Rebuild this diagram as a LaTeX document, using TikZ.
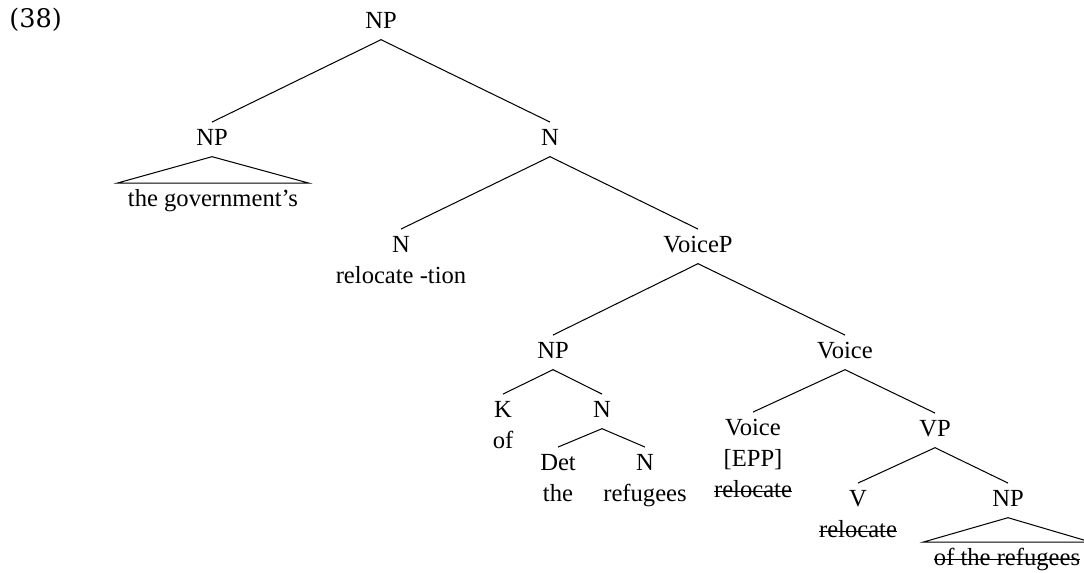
\documentclass[tikz,border=0pt]{standalone}
\usepackage{fontspec}
\setmainfont{Liberation Serif}
\newfontfamily\exnumfont{DejaVu Serif}
\newsavebox\strikebox
\newcommand\strikethru[1]{\sbox\strikebox{#1}\rlap{\rule[0.22em]{\wd\strikebox}{0.5pt}}\usebox\strikebox}
\usetikzlibrary{positioning}

\begin{document}
\begin{tikzpicture}[
    x=0.488pt, y=-0.488pt,
    font=\fontsize{12}{14}\selectfont,
    cat/.style={anchor=base, inner sep=3pt, text height=8pt, text depth=2.5pt},
    word/.style={anchor=base, inner sep=3pt},
    roof/.style={anchor=base, inner xsep=5pt, inner ysep=3pt, text height=8pt, text depth=2.5pt},
    branch/.style={line width=0.5pt}
]
    \useasboundingbox (0,0) rectangle (1084,572);
    \node[anchor=base west, inner sep=0pt, font=\exnumfont\fontsize{12.5}{14}\selectfont] (exnum) at (9,27) {(38)};

    \node[cat] (root) at (381,28) {NP};
    \node[cat] (npposs) at (212,145) {NP};
    \node[cat] (nbar) at (550,145) {N};
    \node[roof] (gov) at (213,206) {the government's};
    \node[cat] (nhead) at (401,252) {N};
    \node[word] (nheadw) at (401,283) {relocate -tion};
    \node[cat] (voicep) at (698,252) {VoiceP};
    \node[cat] (npobj) at (553,358) {NP};
    \node[cat] (voicebar) at (845,358) {Voice};
    \node[cat] (kase) at (503,417) {K};
    \node[word] (kasew) at (503,448) {of};
    \node[cat] (nlow) at (602,417) {N};
    \node[cat] (det) at (558,470) {Det};
    \node[word] (detw) at (558,501) {the};
    \node[cat] (nref) at (645,470) {N};
    \node[word] (nrefw) at (645,501) {refugees};
    \node[cat] (voicehd) at (753,435) {Voice};
    \node[word] (epp) at (753,466) {[EPP]};
    \node[word] (voicehdw) at (753,497) {\strikethru{relocate}};
    \node[cat] (vp) at (935,436) {VP};
    \node[cat] (verb) at (858,506) {V};
    \node[word] (verbw) at (858,537) {\strikethru{relocate}};
    \node[cat] (nplow) at (1008,506) {NP};
    \node[roof] (refroof) at (1007,565) {\strikethru{of the refugees}};

    \draw[branch] (root.south) -- (npposs.north);
    \draw[branch] (root.south) -- (nbar.north);
    \draw[branch] (npposs.south) -- (gov.north west) -- (gov.north east) -- cycle;
    \draw[branch] (nbar.south) -- (nhead.north);
    \draw[branch] (nbar.south) -- (voicep.north);
    \draw[branch] (voicep.south) -- (npobj.north);
    \draw[branch] (voicep.south) -- (voicebar.north);
    \draw[branch] (npobj.south) -- (kase.north);
    \draw[branch] (npobj.south) -- (nlow.north);
    \draw[branch] (nlow.south) -- (det.north);
    \draw[branch] (nlow.south) -- (nref.north);
    \draw[branch] (voicebar.south) -- (voicehd.north);
    \draw[branch] (voicebar.south) -- (vp.north);
    \draw[branch] (vp.south) -- (verb.north);
    \draw[branch] (vp.south) -- (nplow.north);
    \draw[branch] (nplow.south) -- (refroof.north west) -- (refroof.north east) -- cycle;
\end{tikzpicture}
\end{document}
